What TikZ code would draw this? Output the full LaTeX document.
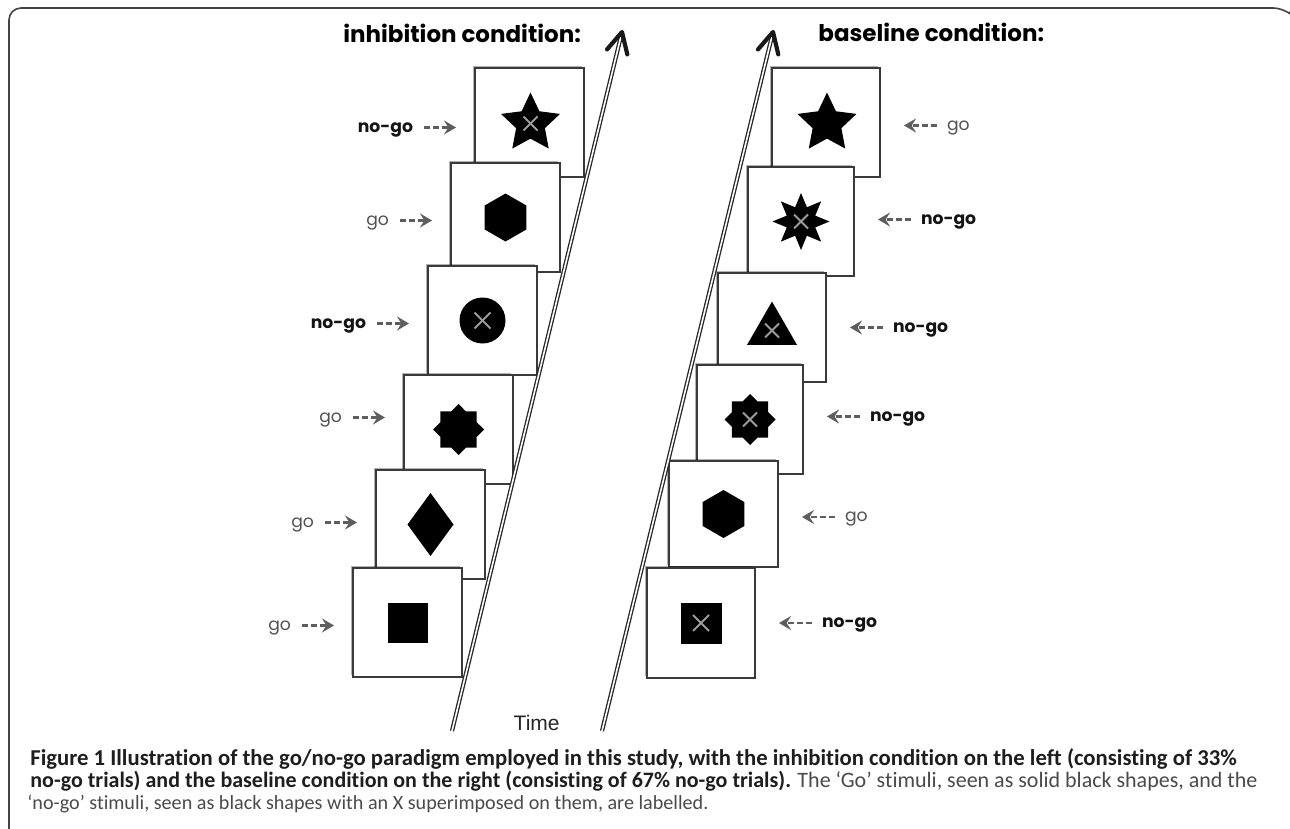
\documentclass[tikz,border=0pt]{standalone}
\usepackage{fontspec}
\setmainfont{Carlito}[Ligatures={NoCommon}]
\newfontfamily\gothic{Poppins}
\newfontfamily\arialf{Liberation Sans}
\usetikzlibrary{arrows.meta,calc,shapes.geometric,shadows}
\newcommand\fitwidth[2]{\resizebox{#1}{!}{#2}}

\definecolor{edge}{HTML}{3A3A3A}
\definecolor{cuegray}{HTML}{5E5E5E}
\definecolor{xmark}{HTML}{9C9C9C}
\definecolor{captxt}{HTML}{4A4A4A}
\definecolor{capbold}{HTML}{1E1E1E}
\definecolor{framegray}{HTML}{444444}

% cross-mark drawn over a stimulus
\newcommand\crossmark[2]{%
  \draw[xm] ([shift={(-#2,-#2)}]#1) -- ([shift={(#2,#2)}]#1);
  \draw[xm] ([shift={(-#2,#2)}]#1) -- ([shift={(#2,-#2)}]#1);}

\begin{document}
\begin{tikzpicture}[x=0.5pt,y=-0.5pt,
  card/.style={draw=edge, line width=0.75pt, fill=white,
    minimum width=54.5pt, minimum height=54.5pt, inner sep=0pt, outer sep=0pt,
    anchor=north west,
    drop shadow={shadow xshift=-1.2pt, shadow yshift=1.2pt, fill=black, opacity=0.3}},
  blot/.style={fill=black, draw=none, inner sep=0pt, outer sep=0pt},
  star5/.style={blot, star, star points=5, star point ratio=2.05, minimum size=31pt},
  spike8/.style={blot, star, star points=8, star point ratio=1.85, minimum size=28.5pt},
  octa/.style={blot, star, star points=8, star point ratio=1.307, minimum size=25.5pt},
  hexa/.style={blot, regular polygon, regular polygon sides=6, minimum size=24pt, rotate=90},
  tri/.style={blot, regular polygon, regular polygon sides=3, minimum size=28.9pt},
  disc/.style={blot, circle, minimum size=23pt},
  sq/.style={blot, rectangle, minimum size=#1},
  rhomb/.style={blot, diamond, minimum width=23pt, minimum height=31.5pt},
  xm/.style={draw=xmark, line width=1pt},
  lab/.style={inner sep=0pt, outer sep=0pt, text height=1ex, text depth=0pt,
    font=\gothic\fontsize{8.6}{10}\selectfont},
  golab/.style={lab, text=black!68},
  nogolab/.style={lab, text=black!92, font=\gothic\bfseries\fontsize{8.6}{10}\selectfont},
  cue/.style={draw=cuegray, line width=1.15pt, dash pattern=on 3pt off 1.6pt,
    -{Stealth[length=6pt, width=7pt, inset=2.2pt]}},
  timeline/.style={draw=black!85, line width=0.65pt, double=white, double distance=0.8pt},
  tiphead/.style={draw=black!90, line width=2.1pt, line cap=round, line join=round},
  title/.style={inner sep=0pt, font=\gothic\bfseries\fontsize{11.5}{13}\selectfont},
  captionline/.style={inner sep=0pt, anchor=base west, font=\fontsize{9}{11}\selectfont}
]
\useasboundingbox (0,0) rectangle (1290,829);
\clip (0,0) rectangle (1290,829);
\fill[white] (0,0) rectangle (1290,829);

% page frame (top and left edges)
\draw[framegray, line width=0.8pt, rounded corners=6pt]
  (24,842) -- (9,842) -- (9,8) -- (1285,8) -- (1289,12);

% ---------- inhibition condition ----------
\node[title, anchor=base west] (tinh) at (343,43) {inhibition condition:};

\node[card] (L1) at (475,68) {};
\node[star5] (s1) at ($(L1.center)+(1,1)$) {};
\crossmark{s1.center}{7}
\node[card] (L2) at (451,163) {};
\node[hexa] (s2) at (L2.center) {};
\node[card] (L3) at (428,266) {};
\node[disc] (s3) at (L3.center) {};
\crossmark{s3.center}{8}
\node[card] (L4) at (404,375) {};
\node[octa] (s4) at (L4.center) {};
\node[card] (L5) at (376,470) {};
\node[rhomb] (s5) at (L5.center) {};
\node[card] (L6) at (353,568) {};
\node[sq=20pt] (s6) at (L6.center) {};

\node[nogolab, anchor=east] (l1) at ($(L1.west)+(-62,5)$) {no-go};
\node[golab,   anchor=east] (l2) at ($(L2.west)+(-62,3)$) {go};
\node[nogolab, anchor=east] (l3) at ($(L3.west)+(-62,3)$) {no-go};
\node[golab,   anchor=east] (l4) at ($(L4.west)+(-62,-12)$) {go};
\node[golab,   anchor=east] (l5) at ($(L5.west)+(-62,-2)$) {go};
\node[golab,   anchor=east] (l6) at ($(L6.west)+(-62,3)$) {go};
\foreach \i in {1,...,6}
  \draw[cue, shorten <=5.5pt, shorten >=9.5pt] (l\i.east) -- (l\i.east -| L\i.west);

% ---------- baseline condition ----------
\node[title, anchor=base west] (tbas) at (818,42) {baseline condition:};

\node[card, minimum width=54pt] (R1) at (772,68) {};
\node[star5] (r1s) at ($(R1.center)+(1,1)$) {};
\node[card, minimum width=53pt] (R2) at (748,167) {};
\node[spike8] (r2s) at (R2.center) {};
\crossmark{r2s.center}{7}
\node[card, minimum width=54pt] (R3) at (718,273) {};
\node[tri] (r3s) at ($(R3.center)+(0,3)$) {};
\crossmark{r3s.center}{7}
\node[card, minimum width=53pt] (R4) at (697,365) {};
\node[octa] (r4s) at (R4.center) {};
\crossmark{r4s.center}{7}
\node[card, minimum width=54.5pt, minimum height=53pt] (R5) at (669,461) {};
\node[hexa] (r5s) at (R5.center) {};
\node[card, minimum width=54pt, minimum height=55pt] (R6) at (647,568) {};
\node[sq=20.5pt] (r6s) at (R6.center) {};
\crossmark{r6s.center}{8}

\node[golab,   anchor=west] (m1) at ($(R1.east)+(67,3)$) {go};
\node[nogolab, anchor=west] (m2) at ($(R2.east)+(67,-2)$) {no-go};
\node[nogolab, anchor=west] (m3) at ($(R3.east)+(67,0)$) {no-go};
\node[nogolab, anchor=west] (m4) at ($(R4.east)+(67,-3)$) {no-go};
\node[golab,   anchor=west] (m5) at ($(R5.east)+(67,3)$) {go};
\node[nogolab, anchor=west] (m6) at ($(R6.east)+(67,0)$) {no-go};
\foreach \i in {1,...,6}
  \draw[cue, shorten <=5pt, shorten >=12pt] (m\i.west) -- (m\i.west -| R\i.east);

% ---------- time axes ----------
\coordinate (inhBot) at (452,731);
\coordinate (inhTop) at (622,32);
\coordinate (basBot) at (602,731);
\coordinate (basTop) at (773,32);
\draw[timeline, shorten >=1pt] (inhBot) -- (inhTop);
\draw[timeline, shorten >=1pt] (basBot) -- (basTop);
\draw[tiphead] ($(inhTop)!11.5pt!27:(inhBot)$) -- (inhTop) -- ($(inhTop)!11.5pt!-27:(inhBot)$);
\draw[tiphead] ($(basTop)!11.5pt!27:(basBot)$) -- (basTop) -- ($(basTop)!11.5pt!-27:(basBot)$);
\node[inner sep=0pt, anchor=base east, font=\arialf\fontsize{10.5}{12}\selectfont, text=black!85]
  (time) at (560,730) {Time};

% ---------- caption ----------
\node[captionline] (cap1) at (30,765) {\fitwidth{603pt}{\color{capbold}\bfseries Figure 1 Illustration of the go/no-go paradigm employed in this study, with the inhibition condition on the left (consisting of 33\%}};
\node[captionline] (cap2) at (30,787) {\fitwidth{613.5pt}{{\color{capbold}\bfseries no-go trials) and the baseline condition on the right (consisting of 67\% no-go trials).} {\color{captxt}The ‘Go’ stimuli, seen as solid black shapes, and the}}};
\node[captionline] (cap3) at (27,809) {\fitwidth{340.5pt}{\color{captxt}‘no-go’ stimuli, seen as black shapes with an X superimposed on them, are labelled.}};
\end{tikzpicture}
\end{document}
